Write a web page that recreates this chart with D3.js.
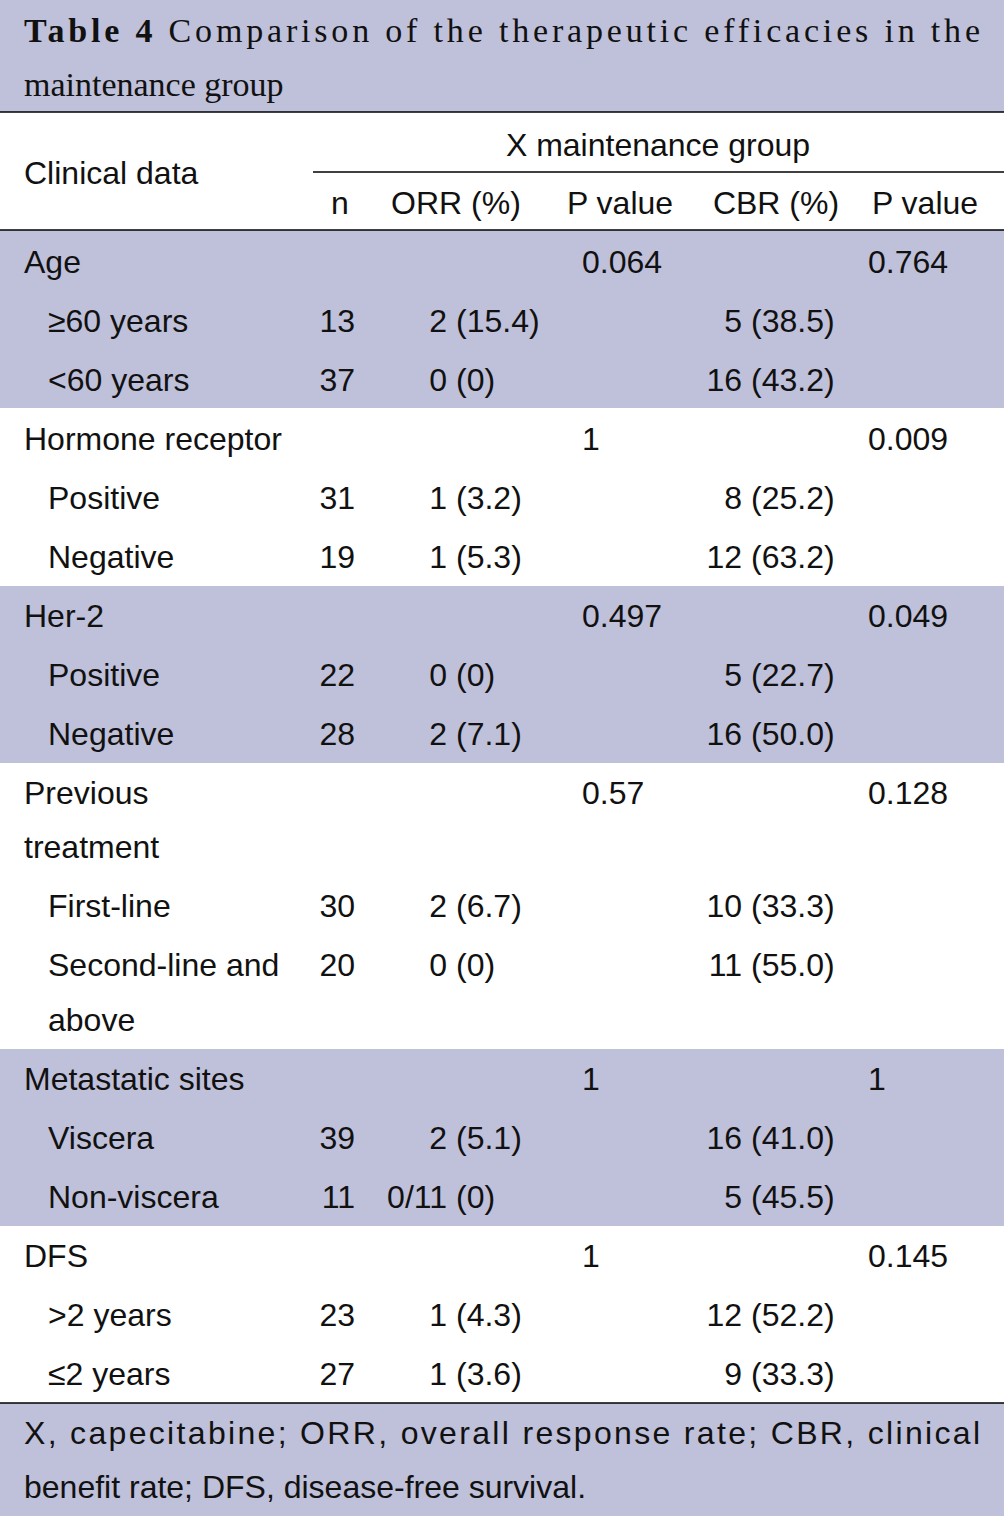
<!DOCTYPE html>
<html><head><meta charset="utf-8">
<script src="https://cdn.jsdelivr.net/npm/d3@7"></script>
<style>body{margin:0;background:#fff}</style>
</head><body>
<script>
// table rows: label, indent, n, ORR, P1, CBR, P2
var labels = ["Age","≥60 years","<60 years","Hormone receptor","Positive","Negative","Her-2","Positive","Negative",
  "Previous","treatment","First-line","Second-line and","above","Metastatic sites","Viscera","Non-viscera","DFS",">2 years","≤2 years"];
var indent = [0,1,1,0,1,1,0,1,1,0,0,1,1,1,0,1,1,0,1,1];
var nVals  = ["","13","37","","31","19","","22","28","","","30","20","","","39","11","","23","27"];
var orrVals= ["","2 (15.4)","0 (0)","","1 (3.2)","1 (5.3)","","0 (0)","2 (7.1)","","","2 (6.7)","0 (0)","","","2 (5.1)","0/11 (0)","","1 (4.3)","1 (3.6)"];
var p1Vals = ["0.064","","","1","","","0.497","","","0.57","","","","","1","","","1","",""];
var cbrVals= ["","5 (38.5)","16 (43.2)","","8 (25.2)","12 (63.2)","","5 (22.7)","16 (50.0)","","","10 (33.3)","11 (55.0)","","","16 (41.0)","5 (45.5)","","12 (52.2)","9 (33.3)"];
var p2Vals = ["0.764","","","0.009","","","0.049","","","0.128","","","","","1","","","0.145","",""];
// row centres (px) and shaded bands
var rowY = [262,321,380,439,498,557,616,675,734,793,847,906,965,1020,1079,1138,1197,1256,1315,1374];
var bands = [[230,408],[586,763],[1049,1226]];

var W = 1004, H = 1516, shade = "#bfc0d9";
var svg = d3.select("body").append("svg").attr("width", W).attr("height", H)
  .style("font-family","'Liberation Sans', Arial, sans-serif").style("font-size","32px");

svg.append("rect").attr("width",W).attr("height",112).attr("fill",shade);
svg.append("rect").attr("y",1403).attr("width",W).attr("height",H-1403).attr("fill",shade);
svg.selectAll("rect.band").data(bands).enter().append("rect").attr("class","band")
  .attr("x",0).attr("y",function(d){return d[0];}).attr("width",W)
  .attr("height",function(d){return d[1]-d[0];}).attr("fill",shade);

// title
var serif = "'Liberation Serif','DejaVu Serif',serif";
var t1 = svg.append("text").attr("x",24).attr("y",42).attr("textLength",956).attr("lengthAdjust","spacing")
  .style("font-family",serif).style("font-size","34px").attr("fill","#111");
t1.append("tspan").attr("font-weight","bold").text("Table 4 ");
t1.append("tspan").text("Comparison of the therapeutic efficacies in the");
svg.append("text").attr("x",24).attr("y",96).style("font-family",serif)
  .style("font-size","34px").attr("fill","#111").text("maintenance group");

// rules
[[0,112],[313,172],[0,230],[0,1403]].forEach(function(l){
  svg.append("line").attr("x1",l[0]).attr("x2",W).attr("y1",l[1]).attr("y2",l[1])
    .attr("stroke","#000").attr("stroke-width",1.5);
});

function txt(x,y,s,anchor){ return svg.append("text").attr("x",x).attr("y",y+11).attr("text-anchor",anchor||"start").attr("fill","#111").text(s); }
txt(24,173,"Clinical data");
txt(658,145,"X maintenance group","middle");
txt(340,203,"n","middle");
txt(456,203,"ORR (%)","middle");
txt(620,203,"P value","middle");
txt(776,203,"CBR (%)","middle");
txt(925,203,"P value","middle");

function split(s, xr, y){
  if(!s) return;
  var i = s.indexOf(" ");
  txt(xr, y, s.slice(0,i), "end");
  txt(xr+9, y, s.slice(i+1));
}
rowY.forEach(function(y,i){
  txt(indent[i] ? 48 : 24, y, labels[i]);
  if(nVals[i]) txt(355, y, nVals[i], "end");
  split(orrVals[i], 447, y);
  if(p1Vals[i]) txt(582, y, p1Vals[i]);
  split(cbrVals[i], 742, y);
  if(p2Vals[i]) txt(868, y, p2Vals[i]);
});

// footnote
svg.append("text").attr("x",24).attr("y",1444).attr("textLength",956).attr("lengthAdjust","spacing")
  .attr("fill","#111").text("X, capecitabine; ORR, overall response rate; CBR, clinical");
txt(24,1487,"benefit rate; DFS, disease-free survival.");
</script>
</body></html>
